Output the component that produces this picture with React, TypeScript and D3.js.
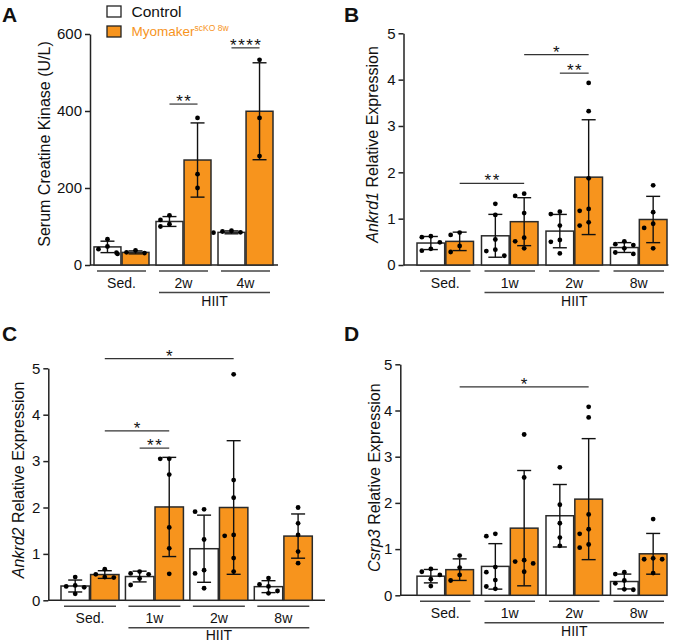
import { useEffect, useRef } from 'react';
import * as d3 from 'd3';

const ORANGE = '#F7941D';
const INK = '#222';
const FONT = '"Liberation Sans", Arial, Helvetica, sans-serif';

// Panel A - serum creatine kinase (U/L)
const ckGroups = ['Sed.', '2w', '4w'];
const ckControl = [[48, 67, 41, 32], [117, 129, 106, 100], [89, 87, 85, 84, 79]];
const ckKO = [[38, 33, 31, 29], [382, 236, 200], [533, 382, 283]];
const ckTicks = [0, 200, 400, 600];
const ckSig = [
  { g1: '2w', s1: 'ctrl', g2: '2w', s2: 'ko', at: 418, label: '**' },
  { g1: '4w', s1: 'ctrl', g2: '4w', s2: 'ko', at: 564, label: '****' },
];

// shared groups for the qPCR panels
const hiitGroups = ['Sed.', '1w', '2w', '8w'];
const exprTicks = [0, 1, 2, 3, 4, 5];

// Panel B - Ankrd1
const ankrd1Control = [
  [0.62, 0.6, 0.49, 0.35, 0.31],
  [1.32, 1.08, 0.55, 0.33, 0.3, 0.2],
  [1.1, 1.15, 0.85, 0.54, 0.5, 0.25],
  [0.45, 0.43, 0.51, 0.27, 0.24, 0.36],
];
const ankrd1KO = [
  [0.7, 0.65, 0.41, 0.28],
  [1.49, 1.54, 1.12, 0.59, 0.51, 0.36],
  [3.93, 3.32, 1.87, 1.21, 1.17, 0.92, 0.85],
  [1.72, 1.14, 0.89, 0.8, 0.36],
];
const ankrd1Sig = [
  { g1: 'Sed.', s1: 'ko', g2: '1w', s2: 'ko', at: 1.76, label: '**' },
  { g1: '1w', s1: 'ko', g2: '2w', s2: 'ko', at: 4.54, label: '*' },
  { g1: '2w', s1: 'ctrl', g2: '2w', s2: 'ko', at: 4.14, label: '**' },
];

// Panel C - Ankrd2
const ankrd2Control = [
  [0.5, 0.32, 0.3, 0.28, 0.14],
  [0.58, 0.62, 0.56, 0.47, 0.33],
  [1.91, 1.96, 1.31, 0.65, 0.58, 0.26],
  [0.48, 0.3, 0.34, 0.2, 0.15],
];
const ankrd2KO = [
  [0.67, 0.56, 0.5, 0.49],
  [3.05, 3.05, 2.71, 1.57, 1.12, 0.57],
  [4.87, 2.59, 2.21, 1.41, 1.39, 0.91, 0.62],
  [2.0, 1.66, 1.41, 1.05, 0.8],
];
const ankrd2Sig = [
  { g1: 'Sed.', s1: 'ko', g2: '2w', s2: 'ko', at: 5.21, label: '*' },
  { g1: 'Sed.', s1: 'ko', g2: '1w', s2: 'ko', at: 3.65, label: '*' },
  { g1: '1w', s1: 'ctrl', g2: '1w', s2: 'ko', at: 3.28, label: '**' },
];

// Panel D - Csrp3
const csrp3Control = [
  [0.57, 0.51, 0.44, 0.35, 0.2],
  [1.28, 1.33, 0.61, 0.5, 0.33, 0.14, 0.19],
  [2.77, 1.96, 1.56, 1.25, 1.07],
  [0.5, 0.46, 0.26, 0.32, 0.13, 0.12],
];
const csrp3KO = [
  [0.86, 0.6, 0.44, 0.32],
  [3.48, 2.55, 0.76, 0.73, 0.69, 0.51],
  [4.08, 3.85, 1.75, 1.43, 1.33, 1.1, 1.03],
  [1.65, 0.8, 0.78, 0.78, 0.48],
];
const csrp3Sig = [
  { g1: 'Sed.', s1: 'ko', g2: '2w', s2: 'ko', at: 4.51, label: '*' },
];

interface Sig { g1: string; s1: string; g2: string; s2: string; at: number; label: string }

interface PanelCfg {
  letter: string;
  letterX: number;
  letterY: number;
  axisX: number;
  axisRight: number;
  barsLeft: number;
  barsRight: number;
  padInner: number;
  base: number;
  top: number;
  yMax: number;
  ticks: number[];
  groups: string[];
  ctrl: number[][];
  ko: number[][];
  sig: Sig[];
  gene?: string;
  title: string;
  titleX: number;
  titleY: number;
  hiit: string[];
}

// simple column-swarm for the scatter points
function swarm(vals: number[], y: (v: number) => number, step: number, minDist: number) {
  const order = d3.range(vals.length).sort((a, b) => vals[b] - vals[a]);
  const placed: { x: number; y: number }[] = [];
  const out: number[] = new Array(vals.length).fill(0);
  const cands = [0, -1, 1, -2, 2, -3, 3];
  order.forEach(i => {
    const py = y(vals[i]);
    let off = 0;
    for (const c of cands) {
      const px = c * step;
      if (placed.every(p => Math.hypot(p.x - px, p.y - py) >= minDist)) {
        off = px;
        break;
      }
    }
    placed.push({ x: off, y: py });
    out[i] = off;
  });
  return out;
}

function drawPanel(svg: d3.Selection<SVGSVGElement, unknown, null, undefined>, cfg: PanelCfg) {
  const g = svg.append('g');

  const x = d3.scaleBand<string>().domain(cfg.groups).range([cfg.barsLeft, cfg.barsRight])
    .paddingInner(cfg.padInner).paddingOuter(0);
  const xs = d3.scaleBand<string>().domain(['ctrl', 'ko']).range([0, x.bandwidth()]).paddingInner(0.04);
  const y = d3.scaleLinear().domain([0, cfg.yMax]).range([cfg.base, cfg.top]);
  const cx = (grp: string, s: string) => (x(grp) ?? 0) + (xs(s) ?? 0) + xs.bandwidth() / 2;

  // panel letter
  g.append('text')
    .attr('x', cfg.letterX).attr('y', cfg.letterY)
    .style('font-family', FONT).style('font-weight', 'bold').style('font-size', '21px')
    .style('fill', '#111')
    .text(cfg.letter);

  // y axis
  const yAxis = d3.axisLeft(y).tickValues(cfg.ticks).tickSize(5).tickPadding(3).tickSizeOuter(0)
    .tickFormat(d3.format('d'));
  const ya = g.append('g').attr('transform', `translate(${cfg.axisX},0)`).call(yAxis);
  ya.select('.domain').attr('stroke', INK).attr('stroke-width', 1.5);
  ya.selectAll('.tick line').attr('stroke', INK).attr('stroke-width', 1.5);
  ya.selectAll('.tick text').style('font-family', FONT).style('font-size', '15px').style('fill', '#111');

  // x axis line
  g.append('line')
    .attr('x1', cfg.axisX).attr('x2', cfg.axisRight)
    .attr('y1', y(0)).attr('y2', y(0))
    .attr('stroke', INK).attr('stroke-width', 1.5);

  // y title
  const t = g.append('text')
    .attr('transform', `translate(${cfg.titleX},${cfg.titleY}) rotate(-90)`)
    .attr('text-anchor', 'middle').attr('dominant-baseline', 'central')
    .style('font-family', FONT).style('font-size', '16px').style('fill', '#111');
  if (cfg.gene) t.append('tspan').style('font-style', 'italic').text(cfg.gene);
  t.append('tspan').text(cfg.title);

  const series = [
    { key: 'ctrl', data: cfg.ctrl, fill: '#fff' },
    { key: 'ko', data: cfg.ko, fill: ORANGE },
  ];

  series.forEach(s => {
    cfg.groups.forEach((grp, i) => {
      const pts = s.data[i];
      const m = d3.mean(pts) ?? 0;
      const sd = d3.deviation(pts) ?? 0;
      const bx = (x(grp) ?? 0) + (xs(s.key) ?? 0);
      const c = bx + xs.bandwidth() / 2;

      g.append('rect')
        .attr('x', bx).attr('y', y(m))
        .attr('width', xs.bandwidth()).attr('height', y(0) - y(m))
        .attr('fill', s.fill).attr('stroke', '#2a2a2a').attr('stroke-width', 1.5);

      // error bar (mean +/- SD)
      const cap = 7;
      g.append('line').attr('x1', c).attr('x2', c)
        .attr('y1', y(m + sd)).attr('y2', y(Math.max(0, m - sd)))
        .attr('stroke', '#111').attr('stroke-width', 1.4);
      [m + sd, Math.max(0, m - sd)].forEach(v => {
        g.append('line').attr('x1', c - cap).attr('x2', c + cap)
          .attr('y1', y(v)).attr('y2', y(v))
          .attr('stroke', '#111').attr('stroke-width', 1.4);
      });

      const offs = swarm(pts, y, 9, 6.5);
      g.selectAll(null)
        .data(pts)
        .enter()
        .append('circle')
        .attr('cx', (_d, k) => c + offs[k])
        .attr('cy', d => y(d))
        .attr('r', 2.4)
        .attr('fill', '#000');
    });
  });

  // significance brackets
  cfg.sig.forEach(sg => {
    const x1 = cx(sg.g1, sg.s1);
    const x2 = cx(sg.g2, sg.s2);
    const ly = y(sg.at);
    g.append('line').attr('x1', x1).attr('x2', x2).attr('y1', ly).attr('y2', ly)
      .attr('stroke', '#333').attr('stroke-width', 1.2);
    g.append('text')
      .attr('x', (x1 + x2) / 2 + 0.75).attr('y', ly + 3)
      .attr('text-anchor', 'middle')
      .style('font-family', FONT).style('font-size', '17px').style('letter-spacing', '1.5px')
      .style('fill', '#111')
      .text(sg.label);
  });

  // group underlines + labels
  const inset = 3;
  const ulY = cfg.base + 6;
  cfg.groups.forEach(grp => {
    const gx = x(grp) ?? 0;
    g.append('line')
      .attr('x1', gx + inset).attr('x2', gx + x.bandwidth() - inset)
      .attr('y1', ulY).attr('y2', ulY)
      .attr('stroke', '#444').attr('stroke-width', 1.5);
    g.append('text')
      .attr('x', gx + x.bandwidth() / 2).attr('y', cfg.base + 22.5)
      .attr('text-anchor', 'middle')
      .style('font-family', FONT).style('font-size', '14px').style('fill', '#111')
      .text(grp);
  });

  // HIIT bracket
  const hx1 = (x(cfg.hiit[0]) ?? 0) + inset;
  const hx2 = (x(cfg.hiit[cfg.hiit.length - 1]) ?? 0) + x.bandwidth() - inset;
  g.append('line')
    .attr('x1', hx1).attr('x2', hx2)
    .attr('y1', cfg.base + 27.5).attr('y2', cfg.base + 27.5)
    .attr('stroke', '#444').attr('stroke-width', 1.5);
  g.append('text')
    .attr('x', (hx1 + hx2) / 2).attr('y', Math.min(cfg.base + 41, 640))
    .attr('text-anchor', 'middle')
    .style('font-family', FONT).style('font-size', '14px').style('fill', '#111')
    .text('HIIT');
}

const App = () => {
  const svgRef = useRef<SVGSVGElement>(null);

  useEffect(() => {
    if (!svgRef.current) return;
    const svg = d3.select(svgRef.current);
    svg.selectAll('*').remove();

    const panels: PanelCfg[] = [
      {
        letter: 'A', letterX: 2, letterY: 22, axisX: 90, axisRight: 278,
        barsLeft: 94, barsRight: 273, padInner: 0.113,
        base: 265, top: 34, yMax: 600, ticks: ckTicks,
        groups: ckGroups, ctrl: ckControl, ko: ckKO, sig: ckSig,
        title: 'Serum Creatine Kinase (U/L)', titleX: 43.5, titleY: 144,
        hiit: ['2w', '4w'],
      },
      {
        letter: 'B', letterX: 344, letterY: 22, axisX: 403.5, axisRight: 668.5,
        barsLeft: 417, barsRight: 667, padInner: 0.124,
        base: 265, top: 33.3, yMax: 5, ticks: exprTicks,
        groups: hiitGroups, ctrl: ankrd1Control, ko: ankrd1KO, sig: ankrd1Sig,
        gene: 'Ankrd1', title: ' Relative Expression', titleX: 372, titleY: 144.5,
        hiit: ['1w', '2w', '8w'],
      },
      {
        letter: 'C', letterX: 2, letterY: 341, axisX: 48.3, axisRight: 325,
        barsLeft: 61, barsRight: 312.3, padInner: 0.1,
        base: 600.3, top: 368.3, yMax: 5, ticks: exprTicks,
        groups: hiitGroups, ctrl: ankrd2Control, ko: ankrd2KO, sig: ankrd2Sig,
        gene: 'Ankrd2', title: ' Relative Expression', titleX: 17.5, titleY: 480,
        hiit: ['1w', '2w', '8w'],
      },
      {
        letter: 'D', letterX: 344, letterY: 341, axisX: 400.3, axisRight: 667,
        barsLeft: 417, barsRight: 667, padInner: 0.124,
        base: 595.3, top: 364.3, yMax: 5, ticks: exprTicks,
        groups: hiitGroups, ctrl: csrp3Control, ko: csrp3KO, sig: csrp3Sig,
        gene: 'Csrp3', title: ' Relative Expression', titleX: 373.5, titleY: 477.7,
        hiit: ['1w', '2w', '8w'],
      },
    ];

    panels.forEach(p => drawPanel(svg, p));

    // legend
    const lg = svg.append('g');
    lg.append('rect').attr('x', 107).attr('y', 6).attr('width', 14).attr('height', 11)
      .attr('fill', '#fff').attr('stroke', '#222').attr('stroke-width', 1.3);
    lg.append('rect').attr('x', 107).attr('y', 26).attr('width', 14).attr('height', 11)
      .attr('fill', ORANGE).attr('stroke', '#222').attr('stroke-width', 1.3);
    lg.append('text').attr('x', 131.5).attr('y', 16.5)
      .style('font-family', FONT).style('font-size', '15.5px').style('fill', '#111')
      .text('Control');
    const mt = lg.append('text').attr('x', 131.5).attr('y', 36)
      .style('font-family', FONT).style('font-size', '13.5px').style('fill', ORANGE);
    mt.append('tspan').text('Myomaker');
    mt.append('tspan').attr('dy', -5).style('font-size', '8.5px').text('scKO 8w');
  }, []);

  return (
    <svg
      ref={svgRef}
      width={684}
      height={642}
      style={{ position: 'absolute', left: 0, top: 0, background: '#fff' }}
    />
  );
};

export default App;
